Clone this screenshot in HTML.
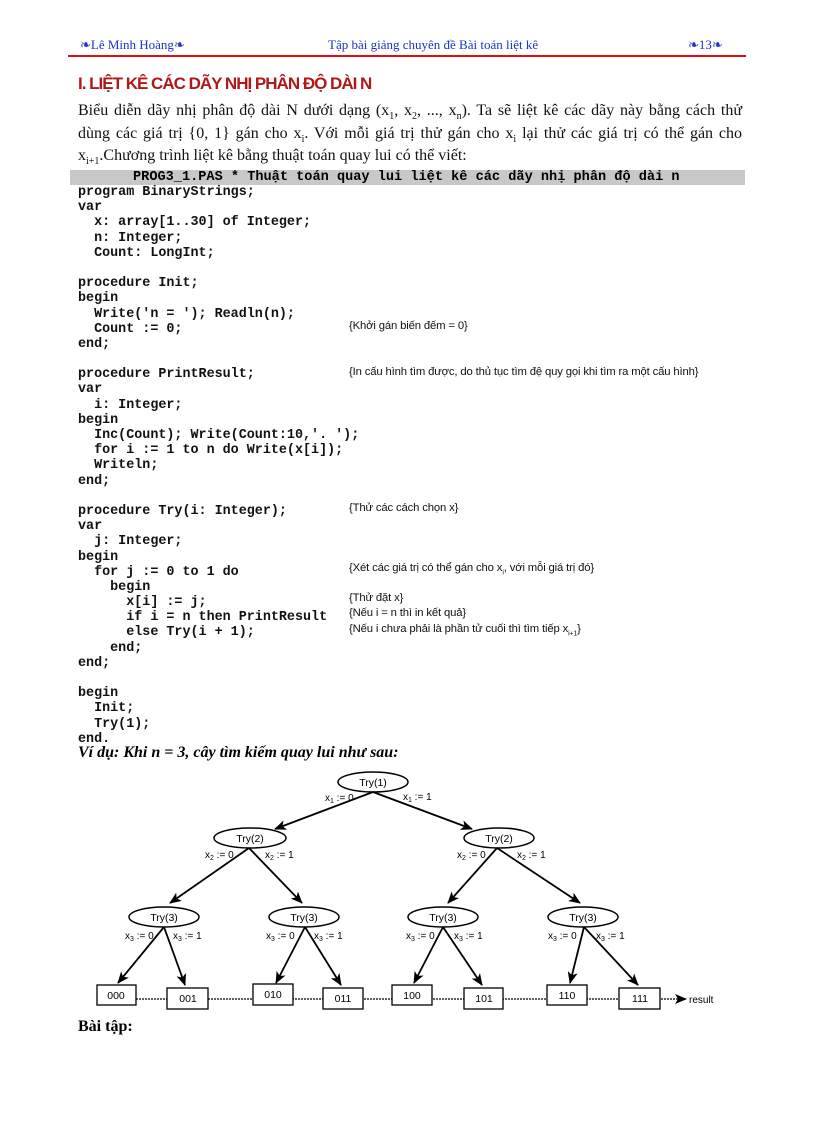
<!DOCTYPE html>
<html><head><meta charset="utf-8">
<style>
body{margin:0;width:816px;height:1123px;background:#fff;position:relative;overflow:hidden;font-family:"Liberation Serif",serif}
.a{position:absolute;white-space:nowrap}
.hd{color:#1a33cc;font-size:13px;top:37px}
pre{position:absolute;left:78px;top:185px;margin:0;font-family:"Liberation Mono",monospace;font-weight:bold;font-size:13.4px;line-height:15.18px;color:#111}
.c{position:absolute;left:349px;font-family:"Liberation Sans",sans-serif;font-size:11.3px;letter-spacing:-0.15px;color:#111;white-space:nowrap}
p.t{position:absolute;left:78px;margin:0;font-size:16px;white-space:nowrap;color:#111}
p.j{width:664px;text-align:justify;text-align-last:justify;white-space:normal}
</style></head><body>
<div class="a hd" style="left:80px">❧Lê Minh Hoàng❧</div>
<div class="a hd" style="left:328px">Tập bài giảng chuyên đề Bài toán liệt kê</div>
<div class="a hd" style="left:688px">❧13❧</div>
<div class="a" style="left:68px;top:55px;width:678px;height:2px;background:#e01010"></div>
<div class="a" style="left:78px;top:74px;font-family:'Liberation Sans',sans-serif;font-weight:bold;font-size:17px;color:#b01818;letter-spacing:-1px">I. LIỆT KÊ CÁC DÃY NHỊ PHÂN ĐỘ DÀI N</div>
<p class="t j" style="top:102px">Biểu diễn dãy nhị phân độ dài N dưới dạng (x<sub style="font-size:10px">1</sub>, x<sub style="font-size:10px">2</sub>, ..., x<sub style="font-size:10px">n</sub>). Ta sẽ liệt kê các dãy này bằng cách thử</p>
<p class="t j" style="top:125px">dùng các giá trị {0, 1} gán cho x<sub style="font-size:10px">i</sub>. Với mỗi giá trị thử gán cho x<sub style="font-size:10px">i</sub> lại thử các giá trị có thể gán cho</p>
<p class="t" style="top:147px">x<sub style="font-size:10px">i+1</sub>.Chương trình liệt kê bằng thuật toán quay lui có thể viết:</p>
<div class="a" style="left:70px;top:170px;width:675px;height:15px;background:#c8c8c8"></div>
<div class="a" style="left:133px;top:170px;font-family:'Liberation Mono',monospace;font-weight:bold;font-size:13.6px;line-height:15px">PROG3_1.PAS * Thuật toán quay lui liệt kê các dãy nhị phân độ dài n</div>
<pre>program BinaryStrings;
var
  x: array[1..30] of Integer;
  n: Integer;
  Count: LongInt;

procedure Init;
begin
  Write('n = '); Readln(n);
  Count := 0;
end;

procedure PrintResult;
var
  i: Integer;
begin
  Inc(Count); Write(Count:10,'. ');
  for i := 1 to n do Write(x[i]);
  Writeln;
end;

procedure Try(i: Integer);
var
  j: Integer;
begin
  for j := 0 to 1 do
    begin
      x[i] := j;
      if i = n then PrintResult
      else Try(i + 1);
    end;
end;

begin
  Init;
  Try(1);
end.</pre>
<div class="c" style="top:320px">{Khởi gán biến đếm = 0}</div>
<div class="c" style="top:366px">{In cấu hình tìm được, do thủ tục tìm đệ quy gọi khi tìm ra một cấu hình}</div>
<div class="c" style="top:502px">{Thử các cách chọn x}</div>
<div class="c" style="top:562px">{Xét các giá trị có thể gán cho x<sub style="font-size:7px">i</sub>, với mỗi giá trị đó}</div>
<div class="c" style="top:592px">{Thử đặt x}</div>
<div class="c" style="top:607px">{Nếu i = n thì in kết quả}</div>
<div class="c" style="top:623px">{Nếu i chưa phải là phần tử cuối thì tìm tiếp x<sub style="font-size:7px">i+1</sub>}</div>
<div class="a" style="left:78px;top:744px;font-size:16px;font-weight:bold;font-style:italic">Ví dụ: Khi n = 3, cây tìm kiếm quay lui như sau:</div>
<div class="a" style="left:78px;top:1018px;font-size:16px;font-weight:bold">Bài tập:</div>
<svg class="a" style="left:0;top:0" width="816" height="1123" font-family="Liberation Sans,sans-serif" font-size="10">
<defs><marker id="m" markerWidth="12" markerHeight="10" refX="11" refY="5" orient="auto" markerUnits="userSpaceOnUse"><path d="M0,0 L12,5 L0,10 L3,5z" fill="#000"/></marker></defs>
<g fill="#fff" stroke="#000" stroke-width="1.5">
<ellipse cx="373" cy="782" rx="35" ry="10"/>
<ellipse cx="250" cy="838" rx="36" ry="10"/><ellipse cx="499" cy="838" rx="35" ry="10"/>
<ellipse cx="164" cy="917" rx="35" ry="10"/><ellipse cx="304" cy="917" rx="35" ry="10"/>
<ellipse cx="443" cy="917" rx="35" ry="10"/><ellipse cx="583" cy="917" rx="35" ry="10"/>
</g>
<g stroke="#000" stroke-width="1.8" marker-end="url(#m)">
<line x1="373" y1="792" x2="275" y2="829"/><line x1="373" y1="792" x2="472" y2="829"/>
<line x1="249" y1="848" x2="170" y2="903"/><line x1="249" y1="848" x2="302" y2="903"/>
<line x1="497" y1="848" x2="448" y2="903"/><line x1="497" y1="848" x2="580" y2="903"/>
<line x1="164" y1="927" x2="118" y2="983"/><line x1="164" y1="927" x2="185" y2="985"/>
<line x1="305" y1="927" x2="276" y2="983"/><line x1="305" y1="927" x2="341" y2="985"/>
<line x1="443" y1="927" x2="414" y2="983"/><line x1="443" y1="927" x2="482" y2="985"/>
<line x1="584" y1="927" x2="570" y2="983"/><line x1="584" y1="927" x2="638" y2="985"/>
</g>
<line x1="97" y1="999" x2="686" y2="999" stroke="#000" stroke-width="1.2" stroke-dasharray="2,1" marker-end="url(#m)"/>
<g fill="#fff" stroke="#000" stroke-width="1.3">
<rect x="97" y="985" width="39" height="20"/><rect x="167" y="988" width="41" height="21"/>
<rect x="253" y="984" width="40" height="21"/><rect x="323" y="988" width="40" height="21"/>
<rect x="392" y="985" width="40" height="20"/><rect x="464" y="988" width="39" height="21"/>
<rect x="547" y="985" width="40" height="20"/><rect x="619" y="988" width="41" height="21"/>
</g>
<g text-anchor="middle" font-size="10.5">
<text x="373" y="786">Try(1)</text><text x="250" y="842">Try(2)</text><text x="499" y="842">Try(2)</text>
<text x="164" y="921">Try(3)</text><text x="304" y="921">Try(3)</text><text x="443" y="921">Try(3)</text><text x="583" y="921">Try(3)</text>
<text x="116" y="999">000</text><text x="188" y="1002">001</text><text x="273" y="998">010</text><text x="343" y="1002">011</text>
<text x="412" y="999">100</text><text x="484" y="1002">101</text><text x="567" y="999">110</text><text x="640" y="1002">111</text>
</g>
<text x="689" y="1003">result</text>
<g>
<text x="325" y="801">x<tspan font-size="7" dy="2">1</tspan><tspan dy="-2"> := 0</tspan></text>
<text x="403" y="800">x<tspan font-size="7" dy="2">1</tspan><tspan dy="-2"> := 1</tspan></text>
<text x="205" y="858">x<tspan font-size="7" dy="2">2</tspan><tspan dy="-2"> := 0</tspan></text>
<text x="265" y="858">x<tspan font-size="7" dy="2">2</tspan><tspan dy="-2"> := 1</tspan></text>
<text x="457" y="858">x<tspan font-size="7" dy="2">2</tspan><tspan dy="-2"> := 0</tspan></text>
<text x="517" y="858">x<tspan font-size="7" dy="2">2</tspan><tspan dy="-2"> := 1</tspan></text>
<text x="125" y="939">x<tspan font-size="7" dy="2">3</tspan><tspan dy="-2"> := 0</tspan></text>
<text x="173" y="939">x<tspan font-size="7" dy="2">3</tspan><tspan dy="-2"> := 1</tspan></text>
<text x="266" y="939">x<tspan font-size="7" dy="2">3</tspan><tspan dy="-2"> := 0</tspan></text>
<text x="314" y="939">x<tspan font-size="7" dy="2">3</tspan><tspan dy="-2"> := 1</tspan></text>
<text x="406" y="939">x<tspan font-size="7" dy="2">3</tspan><tspan dy="-2"> := 0</tspan></text>
<text x="454" y="939">x<tspan font-size="7" dy="2">3</tspan><tspan dy="-2"> := 1</tspan></text>
<text x="548" y="939">x<tspan font-size="7" dy="2">3</tspan><tspan dy="-2"> := 0</tspan></text>
<text x="596" y="939">x<tspan font-size="7" dy="2">3</tspan><tspan dy="-2"> := 1</tspan></text>
</g>
</svg>
</body></html>
